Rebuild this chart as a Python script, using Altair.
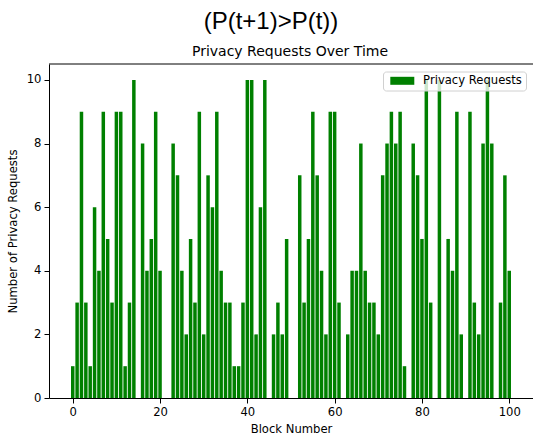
import altair as alt
import pandas as pd

# ---- data ----
blocks = list(range(0, 101))
requests = [
    1, 3, 9, 3, 1, 6, 4, 9, 5, 3,
    9, 9, 1, 3, 10, 0, 8, 4, 5, 9,
    4, 0, 0, 8, 7, 4, 2, 5, 3, 9,
    2, 7, 6, 9, 4, 3, 3, 1, 1, 3,
    10, 10, 2, 6, 10, 0, 2, 3, 2, 5,
    0, 0, 7, 3, 5, 9, 7, 4, 2, 9,
    9, 3, 0, 2, 4, 4, 8, 4, 3, 3,
    2, 7, 8, 9, 8, 9, 1, 0, 8, 7,
    5, 10, 3, 0, 10, 0, 5, 4, 9, 2,
    0, 9, 3, 2, 8, 10, 8, 0, 3, 7,
    4,
]
series_name = "Privacy Requests"
x_ticks = [0, 20, 40, 60, 80, 100]
y_ticks = [0, 2, 4, 6, 8, 10]
fig_title = "(P(t+1)>P(t))"
plot_title = "Privacy Requests Over Time"
x_title = "Block Number"
y_title = "Number of Privacy Requests"

df = pd.DataFrame({"block": blocks, "requests": requests, "series": series_name})
one = pd.DataFrame({"k": [0]})

FONT = "DejaVu Sans"
FS = 11.6

bars = (
    alt.Chart(df)
    .transform_calculate(x0="datum.block - 0.4", x1="datum.block + 0.4")
    .mark_bar(strokeWidth=0)
    .encode(
        x=alt.X(
            "x0:Q",
            scale=alt.Scale(domain=[-5.44, 105.44], nice=False, zero=False),
            axis=alt.Axis(
                values=x_ticks, title=x_title, format="d",
                titleY=34, titleBaseline="alphabetic",
            ),
        ),
        x2="x1:Q",
        y=alt.Y(
            "requests:Q",
            scale=alt.Scale(domain=[0, 10.5], nice=False),
            axis=alt.Axis(
                values=y_ticks, title=y_title, format="d",
                titleX=-36, titleY=167, titleAngle=270,
                titleAlign="center", titleBaseline="middle",
            ),
        ),
        y2=alt.datum(0),
        color=alt.Color(
            "series:N",
            scale=alt.Scale(range=["#008000"]),
            legend=alt.Legend(
                title=None,
                orient="none",
                legendX=334,
                legendY=7.5,
                padding=3.5,
                fillColor="rgba(255,255,255,0.8)",
                strokeColor="#d0d0d0",
                cornerRadius=3,
                symbolType="M-3,-1H3V1H-3Z",
                symbolSize=64,
                symbolOffset=10,
                symbolStrokeWidth=0,
                symbolOpacity=1,
                labelFont=FONT,
                labelFontSize=FS,
                labelColor="black",
                labelOffset=15,
            ),
        ),
    )
)

top_rule = alt.Chart(one).mark_rule(color="black", strokeWidth=1).encode(y=alt.value(0))

t1 = alt.Chart(one).mark_text(
    text=fig_title, font="Liberation Sans", fontSize=24, color="black",
    align="center", baseline="alphabetic",
).encode(x=alt.value(222), y=alt.value(-34.7))

t2 = alt.Chart(one).mark_text(
    text=plot_title, font=FONT, fontSize=14, color="black",
    align="center", baseline="alphabetic",
).encode(x=alt.value(241), y=alt.value(-8))

chart = (
    alt.layer(bars, top_rule, t1, t2)
    .properties(
        width=484,
        height=334,
        autosize=alt.AutoSizeParams(type="none"),
        padding={"left": 49, "top": 64, "right": 0, "bottom": 36},
    )
    .configure_view(stroke=None)
    .configure_axis(
        grid=False,
        labelFont=FONT,
        labelFontSize=FS,
        labelColor="black",
        titleFont=FONT,
        titleFontSize=FS,
        titleFontWeight="normal",
        titleColor="black",
        tickColor="black",
        tickSize=5,
        domainColor="black",
        labelPadding=3,
    )
)

chart.save("out.html", embed_options={"renderer": "svg", "actions": False})
